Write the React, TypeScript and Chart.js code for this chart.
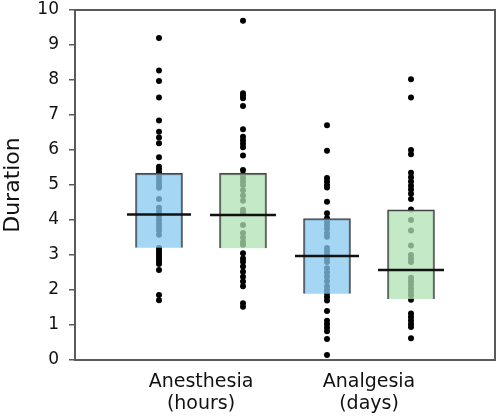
import React, { useEffect, useRef } from 'react';
import { Chart, registerables } from 'chart.js';

Chart.register(...registerables);

const groupLabels: string[][] = [['Anesthesia', '(hours)'], ['Analgesia', '(days)']];
const yTicks = [0, 1, 2, 3, 4, 5, 6, 7, 8, 9, 10];

// Box statistics per group: [Anesthesia, Analgesia]
const blueQ1 = [3.21, 1.89];
const blueQ3 = [5.33, 4.04];
const blueMedian = [4.16, 2.97];
const greenQ1 = [3.19, 1.74];
const greenQ3 = [5.33, 4.29];
const greenMedian = [4.14, 2.57];

// Individual observations
const anesthesiaBlue = [9.2, 8.27, 7.97, 7.5, 6.84, 6.52, 6.36, 6.19, 5.79, 5.52, 5.45, 5.36, 5.27, 5.18, 5.09, 5.0, 4.92, 4.6, 4.35, 4.24, 4.1, 4.0, 3.9, 3.8, 3.7, 3.58, 3.2, 3.12, 3.05, 2.97, 2.9, 2.82, 2.74, 2.57, 1.86, 1.71];
const anesthesiaGreen = [9.69, 7.62, 7.55, 7.48, 7.26, 6.59, 6.38, 6.28, 6.18, 6.08, 5.84, 5.43, 5.3, 5.2, 5.1, 5.0, 4.85, 4.7, 4.55, 4.29, 4.2, 3.86, 3.63, 3.5, 3.37, 3.29, 3.05, 2.9, 2.81, 2.67, 2.52, 2.38, 2.24, 2.11, 1.62, 1.52];
const analgesiaBlue = [6.71, 5.98, 5.2, 5.1, 5.0, 4.93, 4.52, 4.19, 4.05, 3.95, 3.85, 3.75, 3.62, 3.52, 3.2, 3.1, 3.0, 2.9, 2.8, 2.62, 2.5, 2.38, 2.25, 2.1, 2.0, 1.9, 1.8, 1.7, 1.4, 1.12, 1.02, 0.92, 0.82, 0.6, 0.14];
const analgesiaGreen = [8.02, 7.5, 6.0, 5.88, 5.35, 5.22, 5.1, 4.98, 4.87, 4.75, 4.6, 4.3, 4.0, 3.7, 3.27, 3.0, 2.9, 2.8, 2.35, 2.25, 2.15, 2.05, 1.95, 1.85, 1.72, 1.33, 1.23, 1.13, 1.03, 0.94, 0.62];

const BLUE_FILL = 'rgba(135,200,240,0.75)';
const GREEN_FILL = 'rgba(175,226,180,0.75)';

const framePlugin = {
  id: 'frame',
  afterDatasetsDraw(chart: any) {
    const { ctx, chartArea } = chart;
    ctx.save();
    ctx.strokeStyle = '#5a5a5a';
    ctx.lineWidth = 2;
    ctx.strokeRect(chartArea.left, chartArea.top, chartArea.right - chartArea.left, chartArea.bottom - chartArea.top);
    ctx.restore();
  },
};

export default function App() {
  const ref = useRef<HTMLCanvasElement>(null);

  useEffect(() => {
    document.body.style.margin = '0';
    if (!ref.current) return;
    const dotSets = [anesthesiaBlue, anesthesiaGreen, analgesiaBlue, analgesiaGreen];
    const boxData: any[] = [];
    const boxColors: string[] = [];
    const medianData: any[] = [];
    const medianRadius: number[] = [];
    for (let g = 0; g < groupLabels.length; g++) {
      boxData.push({ x: 1 + 2 * g, y: [blueQ1[g], blueQ3[g]] });
      boxColors.push(BLUE_FILL);
      boxData.push({ x: 2 + 2 * g, y: [greenQ1[g], greenQ3[g]] });
      boxColors.push(GREEN_FILL);
      medianData.push({ x: 1 + 2 * g, y: blueMedian[g] });
      medianRadius.push(32);
      medianData.push({ x: 2 + 2 * g, y: greenMedian[g] });
      medianRadius.push(33);
    }
    const dotDatasets = dotSets.map((vals, i) => ({
      type: 'scatter' as const,
      data: vals.map((v) => ({ x: i + 1, y: v })),
      backgroundColor: '#000',
      borderColor: '#000',
      pointRadius: 3,
      borderWidth: 0,
      order: 3,
    }));

    const chart = new Chart(ref.current, {
      type: 'bar',
      data: {
        datasets: [
          ...dotDatasets,
          {
            type: 'bar',
            data: boxData,
            backgroundColor: boxColors,
            borderColor: '#444',
            borderWidth: 1.5,
            barThickness: 47,
            grouped: false,
            order: 2,
          } as any,
          {
            type: 'scatter',
            data: medianData,
            pointStyle: 'line',
            pointRadius: medianRadius,
            borderColor: '#111',
            borderWidth: 2.5,
            order: 1,
          } as any,
        ],
      },
      options: {
        animation: false,
        responsive: false,
        maintainAspectRatio: false,
        layout: { autoPadding: false, padding: { top: 10, right: 3, left: 0, bottom: 0 } },
        plugins: { legend: { display: false }, tooltip: { enabled: false } },
        scales: {
          x: {
            type: 'linear',
            min: 0,
            max: 5,
            offset: false,
            grid: { display: false, offset: false },
            border: { display: false },
            afterBuildTicks: (axis: any) => {
              axis.ticks = groupLabels.map((_, g) => ({ value: 1.5 + 2 * g }));
            },
            afterFit: (axis: any) => {
              axis.height = 57;
              axis.paddingLeft = 0;
              axis.paddingRight = 0;
            },
            ticks: {
              autoSkip: false,
              maxRotation: 0,
              padding: 3,
              color: '#111',
              font: { family: 'DejaVu Sans', size: 19, lineHeight: 1.15 },
              callback: (value: any) => {
                const g = Math.round((Number(value) - 1.5) / 2);
                return groupLabels[g] || '';
              },
            },
          },
          y: {
            type: 'linear',
            min: 0,
            max: 10,
            afterBuildTicks: (axis: any) => {
              axis.ticks = yTicks.map((v) => ({ value: v }));
            },
            afterFit: (axis: any) => {
              axis.width = 75;
              axis.paddingTop = 0;
              axis.paddingBottom = 0;
            },
            grid: {
              display: true,
              drawOnChartArea: false,
              drawTicks: true,
              tickLength: 6,
              color: '#5a5a5a',
              lineWidth: 1.5,
            },
            border: { display: false },
            ticks: {
              padding: 10,
              color: '#111',
              font: { family: 'DejaVu Sans', size: 17 },
            },
            title: {
              display: true,
              text: 'Duration',
              color: '#111',
              font: { family: 'DejaVu Sans', size: 22 },
              padding: { top: 0, bottom: 0 },
            },
          },
        },
      },
      plugins: [framePlugin],
    });
    return () => chart.destroy();
  }, []);

  return (
    <div style={{ width: 498, height: 417 }}>
      <canvas ref={ref} width={498} height={417} style={{ width: 498, height: 417 }} />
    </div>
  );
}
